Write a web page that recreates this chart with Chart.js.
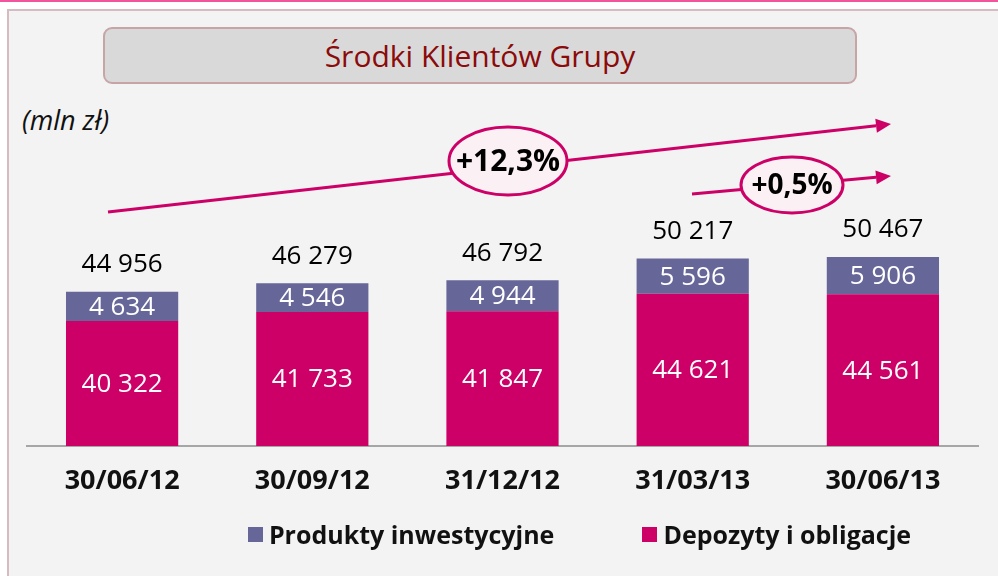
<!DOCTYPE html>
<html>
<head>
<meta charset="utf-8">
<script src="https://cdn.jsdelivr.net/npm/chart.js@4"></script>
<style>
  html, body { margin: 0; padding: 0; background: #fff; }
  #page { position: relative; width: 998px; height: 576px; overflow: hidden; font-family: "Open Sans", sans-serif; }
  #topline { position: absolute; left: 0; top: 0; width: 998px; height: 2px; background: #f2559d; }
  #panel { position: absolute; left: 7px; top: 9px; right: 0; bottom: 0; background: #f3f3f3;
           border-left: 2px solid #d6bcc0; border-top: 2px solid #d6bcc0; }
  #titlebox { position: absolute; left: 103px; top: 27px; width: 750px; height: 53px; background: #d9d9d9;
              border: 2px solid #c7a5a7; border-radius: 9px; color: #8b0a0a; font-size: 30px;
              text-align: center; line-height: 53px; }
  #unit { position: absolute; left: 22px; top: 101px; font-size: 27px; font-style: italic; color: #111; }
  #chart { position: absolute; left: 0; top: 0; }
  #legend { position: absolute; left: 161px; width: 837px; top: 517px; display: flex; justify-content: center;
            gap: 88px; font-weight: bold; font-size: 25px; color: #111; }
  #legend span.item { display: flex; align-items: center; }
  #legend span.box { display: inline-block; width: 15px; height: 15px; margin-right: 6px; }
</style>
</head>
<body>
<div id="page">
  <div id="topline"></div>
  <div id="panel"></div>
  <div id="titlebox">Środki Klientów Grupy</div>
  <div id="unit">(mln zł)</div>
  <canvas id="chart" width="998" height="576"></canvas>
  <div id="legend"></div>
</div>
<script>
// dane (mln zł)
var categories = ['30/06/12', '30/09/12', '31/12/12', '31/03/13', '30/06/13'];
var depozyty = [40322, 41733, 41847, 44621, 44561];
var produkty = [4634, 4546, 4944, 5596, 5906];
var sumy = [44956, 46279, 46792, 50217, 50467];
var seriesNames = ['Depozyty i obligacje', 'Produkty inwestycyjne'];
var seriesColors = ['#cc0066', '#666699'];

var yMin = 20500;
var pxPerUnit = 158.5;
var plotTop = 100, plotBottom = 446;
var yMax = yMin + (plotBottom - plotTop) * pxPerUnit;

function fmt(v) {
    return String(v).replace(/\B(?=(\d{3})+(?!\d))/g, ' ');
}

// legenda w HTML (kolejnosc jak na slajdzie: produkty, potem depozyty)
var legendEl = document.getElementById('legend');
[1, 0].forEach(function(i) {
    var item = document.createElement('span');
    item.className = 'item';
    item.innerHTML = '<span class="box" style="background:' + seriesColors[i] + '"></span>' + seriesNames[i];
    legendEl.appendChild(item);
});

// etykiety wartosci na slupkach + sumy nad slupkami
var labelsPlugin = {
    id: 'barLabels',
    afterDatasetsDraw: function(chart) {
        var ctx = chart.ctx;
        var bottom = chart.chartArea.bottom;
        ctx.save();
        ctx.textAlign = 'center';
        ctx.textBaseline = 'middle';
        ctx.font = '26px "Open Sans"';
        chart.data.datasets.forEach(function(ds, di) {
            var meta = chart.getDatasetMeta(di);
            meta.data.forEach(function(bar, i) {
                var base = Math.min(bar.base, bottom); // os nie zaczyna sie od zera
                ctx.fillStyle = '#ffffff';
                ctx.fillText(fmt(ds.data[i]), bar.x, (bar.y + base) / 2 + 1);
            });
        });
        var yScale = chart.scales.y;
        var meta0 = chart.getDatasetMeta(0);
        ctx.fillStyle = '#000000';
        sumy.forEach(function(s, i) {
            ctx.fillText(fmt(s), meta0.data[i].x, yScale.getPixelForValue(s) - 27);
        });
        ctx.restore();
    }
};

// strzalki i elipsy z dynamika
function drawArrow(ctx, x1, y1, x2, y2) {
    var ang = Math.atan2(y2 - y1, x2 - x1);
    var headLen = 15, headW = 7;
    var bx = x2 - headLen * Math.cos(ang), by = y2 - headLen * Math.sin(ang);
    ctx.beginPath();
    ctx.moveTo(x1, y1);
    ctx.lineTo(bx, by);
    ctx.stroke();
    ctx.beginPath();
    ctx.moveTo(x2, y2);
    ctx.lineTo(bx + headW * Math.sin(ang), by - headW * Math.cos(ang));
    ctx.lineTo(bx - headW * Math.sin(ang), by + headW * Math.cos(ang));
    ctx.closePath();
    ctx.fill();
}

function drawBubble(ctx, cx, cy, rx, ry, text, size) {
    ctx.beginPath();
    ctx.ellipse(cx, cy, rx, ry, 0, 0, Math.PI * 2);
    ctx.fillStyle = '#fbf0f4';
    ctx.fill();
    ctx.lineWidth = 3;
    ctx.strokeStyle = '#cc0066';
    ctx.stroke();
    ctx.fillStyle = '#000';
    ctx.font = 'bold ' + size + 'px "Open Sans"';
    ctx.textAlign = 'center';
    ctx.textBaseline = 'middle';
    ctx.fillText(text, cx, cy + 1);
}

var arrowsPlugin = {
    id: 'arrows',
    afterDraw: function(chart) {
        var ctx = chart.ctx;
        ctx.save();
        ctx.strokeStyle = '#cc0066';
        ctx.fillStyle = '#cc0066';
        ctx.lineWidth = 3;
        drawArrow(ctx, 108, 212, 891, 124);
        drawArrow(ctx, 692, 194, 891, 176);
        drawBubble(ctx, 508, 161, 59, 34, '+12,3%', 30);
        drawBubble(ctx, 792, 185, 51, 28, '+0,5%', 28);
        ctx.restore();
    }
};

new Chart(document.getElementById('chart'), {
    type: 'bar',
    data: {
        labels: categories,
        datasets: [
            { label: seriesNames[0], data: depozyty, backgroundColor: seriesColors[0], borderWidth: 0 },
            { label: seriesNames[1], data: produkty, backgroundColor: seriesColors[1], borderWidth: 0 }
        ]
    },
    options: {
        responsive: false,
        animation: false,
        layout: { padding: { left: 27, right: 20, top: plotTop, bottom: 576 - plotBottom - 62 } },
        categoryPercentage: 1,
        barPercentage: 0.59,
        plugins: {
            legend: { display: false },
            tooltip: { enabled: false }
        },
        scales: {
            x: {
                stacked: true,
                grid: { display: false, drawTicks: false },
                border: { display: true, color: '#a6a6a6', width: 2 },
                ticks: { color: '#111', padding: 19, font: { family: 'Open Sans', size: 27, weight: 'bold' } },
                afterFit: function(scale) { scale.height = 62; }
            },
            y: {
                stacked: true,
                display: false,
                min: yMin,
                max: yMax
            }
        }
    },
    plugins: [labelsPlugin, arrowsPlugin]
});
</script>
</body>
</html>
